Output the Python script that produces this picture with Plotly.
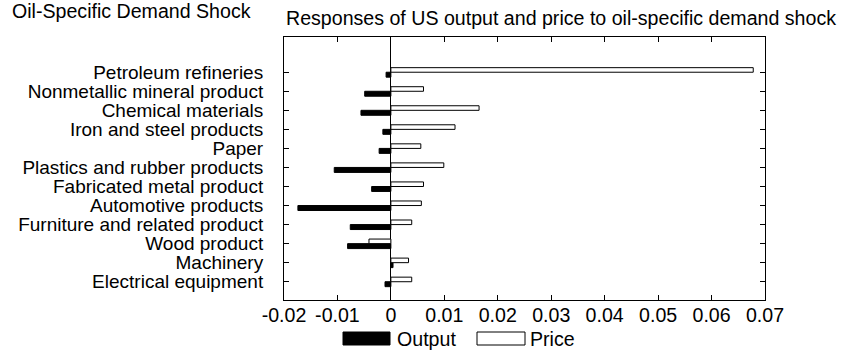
import plotly.graph_objects as go

categories = [
    "Petroleum refineries",
    "Nonmetallic mineral product",
    "Chemical materials",
    "Iron and steel products",
    "Paper",
    "Plastics and rubber products",
    "Fabricated metal product",
    "Automotive products",
    "Furniture and related product",
    "Wood product",
    "Machinery",
    "Electrical equipment",
]
output_vals = [-0.0009, -0.0049, -0.0056, -0.0015, -0.0022, -0.0106,
               -0.0036, -0.0174, -0.0076, -0.0081, 0.0004, -0.0011]
price_vals = [0.0678, 0.0061, 0.0165, 0.0120, 0.0056, 0.0099,
              0.0061, 0.0057, 0.0039, -0.0041, 0.0033, 0.0039]
x_tickvals = [-0.02, -0.01, 0, 0.01, 0.02, 0.03, 0.04, 0.05, 0.06, 0.07]
x_ticktext = ["-0.02", "-0.01", "0", "0.01", "0.02", "0.03", "0.04", "0.05", "0.06", "0.07"]

n = len(categories)
ypos = [n - 1 - i for i in range(n)]  # top category has largest y

FONT = "Liberation Sans, Arial, Helvetica, sans-serif"
FS = 19
FT = 19.6

fig = go.Figure()
fig.add_trace(go.Bar(
    y=ypos, x=output_vals, orientation="h", name="Output",
    marker=dict(color="black", line=dict(color="black", width=1)),
    width=0.26, offset=-0.26, showlegend=False,
))
fig.add_trace(go.Bar(
    y=ypos, x=price_vals, orientation="h", name="Price",
    marker=dict(color="white", line=dict(color="black", width=1)),
    width=0.24, offset=0.0, showlegend=False,
))

L, R, T, B = 284, 77, 37, 53
W, H = 842, 353
pw = W - L - R
ph = H - T - B

def px_x(p):
    return (p - L) / pw

def px_y(p):
    return (H - B - p) / ph

fig.update_layout(
    width=W, height=H,
    margin=dict(l=L, r=R, t=T, b=B, pad=0, autoexpand=False),
    paper_bgcolor="white", plot_bgcolor="white",
    barmode="overlay",
    font=dict(family=FONT, size=FS, color="black"),
    xaxis=dict(
        range=[-0.02, 0.07], tickvals=x_tickvals, ticktext=x_ticktext,
        ticks="inside", ticklen=5, tickcolor="black", tickwidth=1,
        showline=True, linecolor="black", linewidth=1, mirror="ticks",
        showgrid=False, zeroline=True, zerolinecolor="black", zerolinewidth=1,
        tickfont=dict(family=FONT, size=FT), fixedrange=True, automargin=False,
        ticklabelstandoff=-3,
    ),
    yaxis=dict(
        range=[-0.96, 12.85], tickvals=ypos, ticktext=categories,
        ticks="inside", ticklen=5, tickcolor="black", tickwidth=1,
        showline=True, linecolor="black", linewidth=1, mirror="ticks",
        showgrid=False, zeroline=False, automargin=False,
        tickfont=dict(family=FONT, size=FS), ticklabelstandoff=16,
    ),
)

annotations = [
    dict(text="Responses of US output and price to oil-specific demand shock",
         x=px_x(284), y=px_y(18), xref="paper", yref="paper",
         xanchor="left", yanchor="middle", showarrow=False,
         font=dict(family=FONT, size=FT)),
    dict(text="Oil-Specific Demand Shock",
         x=px_x(10), y=px_y(11), xref="paper", yref="paper",
         xanchor="left", yanchor="middle", showarrow=False,
         font=dict(family=FONT, size=FT)),
    dict(text="Output", x=px_x(395), y=px_y(339), xref="paper", yref="paper",
         xanchor="left", yanchor="middle", showarrow=False,
         font=dict(family=FONT, size=FT)),
    dict(text="Price", x=px_x(528), y=px_y(339), xref="paper", yref="paper",
         xanchor="left", yanchor="middle", showarrow=False,
         font=dict(family=FONT, size=FT)),
]
fig.update_layout(annotations=annotations)

shapes = [
    dict(type="rect", xref="paper", yref="paper",
         x0=px_x(343), x1=px_x(390), y0=px_y(345), y1=px_y(332),
         fillcolor="black", line=dict(color="black", width=1)),
    dict(type="rect", xref="paper", yref="paper",
         x0=px_x(477), x1=px_x(525), y0=px_y(345), y1=px_y(332),
         fillcolor="white", line=dict(color="black", width=1)),
]
fig.update_layout(shapes=shapes)

fig.write_html("out.html")
